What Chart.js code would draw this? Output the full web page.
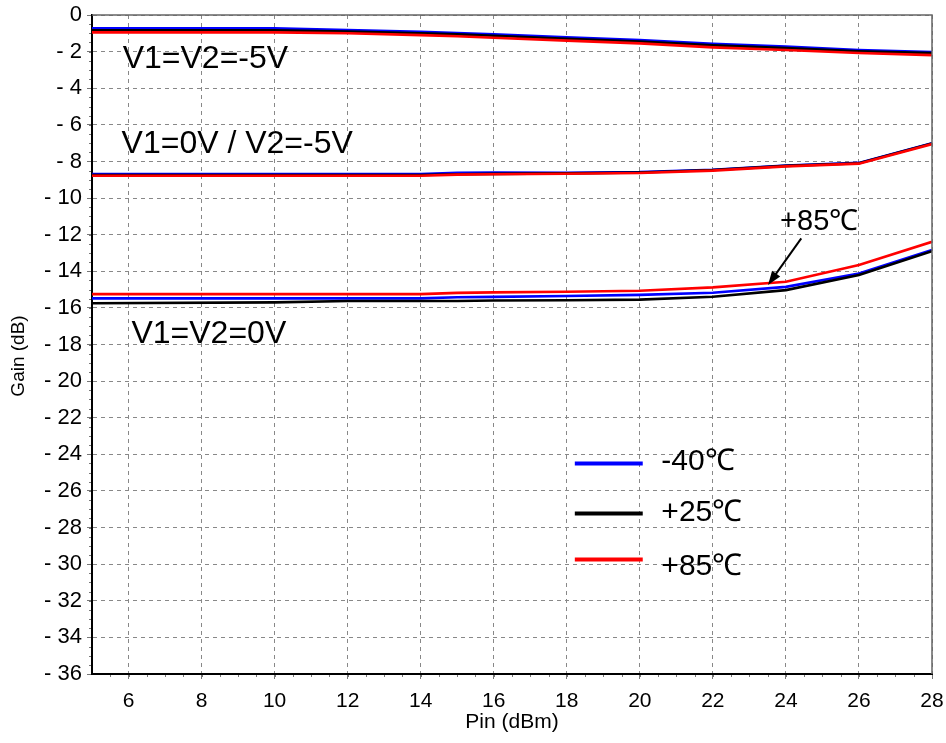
<!DOCTYPE html>
<html>
<head>
<meta charset="utf-8">
<script src="https://cdn.jsdelivr.net/npm/chart.js@4.4.0/dist/chart.umd.min.js"></script>
<style>
  html, body { margin: 0; padding: 0; background: #fff; }
  #wrap { width: 946px; height: 743px; }
</style>
</head>
<body>
<div id="wrap"><canvas id="chart" width="946" height="743"></canvas></div>
<script>
/* ---------- data ---------- */
const pinDbm = [5, 10, 12, 14, 15, 16, 18, 20, 22, 24, 26, 28];

// V1=V2=-5V
const gainA_m40 = [-0.73, -0.73, -0.82, -0.92, -0.98, -1.05, -1.22, -1.37, -1.58, -1.73, -1.91, -2.02];
const gainA_p25 = [-0.84, -0.84, -0.90, -1.00, -1.06, -1.13, -1.30, -1.45, -1.66, -1.81, -1.98, -2.08];
const gainA_p85 = [-0.95, -0.95, -1.00, -1.10, -1.16, -1.24, -1.40, -1.55, -1.77, -1.91, -2.08, -2.19];

// V1=0V / V2=-5V
const gainB_m40 = [-8.69, -8.69, -8.69, -8.69, -8.62, -8.60, -8.62, -8.58, -8.45, -8.22, -8.08, -7.00];
const gainB_p25 = [-8.74, -8.74, -8.74, -8.74, -8.70, -8.68, -8.65, -8.60, -8.47, -8.24, -8.10, -7.02];
const gainB_p85 = [-8.78, -8.78, -8.78, -8.78, -8.72, -8.70, -8.67, -8.63, -8.50, -8.27, -8.12, -7.05];

// V1=V2=0V
const gainC_m40 = [-15.48, -15.48, -15.48, -15.48, -15.42, -15.40, -15.35, -15.29, -15.17, -14.85, -14.12, -12.84];
const gainC_p25 = [-15.75, -15.70, -15.62, -15.62, -15.62, -15.60, -15.58, -15.55, -15.39, -15.03, -14.20, -12.90];
const gainC_p85 = [-15.25, -15.25, -15.25, -15.25, -15.18, -15.15, -15.12, -15.06, -14.88, -14.57, -13.66, -12.39];

const xTicks = [6, 8, 10, 12, 14, 16, 18, 20, 22, 24, 26, 28];
const yTicks = [0, -2, -4, -6, -8, -10, -12, -14, -16, -18, -20, -22, -24, -26, -28, -30, -32, -34, -36];

const tempLabels = ['-40℃', '+25℃', '+85℃'];
const tempColors = ['#0000ff', '#000000', '#ff0000'];

/* ---------- build datasets ---------- */
const FONT = '"Liberation Sans", Arial, sans-serif';
const groups = [
  [gainA_m40, gainA_p25, gainA_p85],
  [gainB_m40, gainB_p25, gainB_p85],
  [gainC_m40, gainC_p25, gainC_p85],
];
const datasets = [];
groups.forEach(g => {
  g.forEach((arr, t) => {
    datasets.push({
      label: tempLabels[t],
      data: pinDbm.map((x, i) => ({ x: x, y: arr[i] })),
      borderColor: tempColors[t],
      backgroundColor: tempColors[t],
      borderWidth: 2.6,
      pointRadius: 0,
      tension: 0,
      fill: false,
      order: 2 - t, // red on top, like the original plot
    });
  });
});

// text notes, placed in data units
const notes = [
  { text: 'V1=V2=-5V', x: 5.84, y: -2.9 },
  { text: 'V1=0V / V2=-5V', x: 5.81, y: -7.54 },
  { text: 'V1=V2=0V', x: 6.08, y: -17.92 },
];

/* ---------- plugin: frame, minor ticks, notes, legend ---------- */
const decor = {
  id: 'decor',
  afterDatasetsDraw(chart) {
    const { ctx, chartArea: a, scales: { x, y } } = chart;
    ctx.save();

    // top/right frame
    ctx.strokeStyle = '#666';
    ctx.lineWidth = 1.5;
    ctx.beginPath();
    ctx.moveTo(a.left, a.top);
    ctx.lineTo(a.right, a.top);
    ctx.lineTo(a.right, a.bottom);
    ctx.stroke();

    // minor ticks
    ctx.strokeStyle = '#777';
    ctx.lineWidth = 1;
    ctx.beginPath();
    for (let v = 5.5; v < 28; v += 0.5) {
      const px = Math.round(x.getPixelForValue(v)) + 0.5;
      ctx.moveTo(px, a.bottom + 1);
      ctx.lineTo(px, a.bottom + 3);
    }
    for (let v = -35.5; v < 0; v += 0.5) {
      const py = Math.round(y.getPixelForValue(v)) + 0.5;
      ctx.moveTo(a.left - 1, py);
      ctx.lineTo(a.left - 3, py);
    }
    ctx.stroke();

    // y axis title
    ctx.fillStyle = '#000';
    ctx.save();
    ctx.translate(19, 356);
    ctx.rotate(-Math.PI / 2);
    ctx.textAlign = 'center';
    ctx.textBaseline = 'middle';
    ctx.font = '19px ' + FONT;
    ctx.fillText('Gain (dB)', 0, 0);
    ctx.restore();

    // notes
    ctx.textBaseline = 'alphabetic';
    ctx.textAlign = 'left';
    ctx.font = '32px ' + FONT;
    notes.forEach(n => ctx.fillText(n.text, x.getPixelForValue(n.x), y.getPixelForValue(n.y)));

    // +85 pointer
    ctx.font = '29px ' + FONT;
    ctx.fillText('+85℃', x.getPixelForValue(23.84), y.getPixelForValue(-11.75));
    const x1 = x.getPixelForValue(24.42), y1 = y.getPixelForValue(-12.2);
    const x2 = x.getPixelForValue(23.51), y2 = y.getPixelForValue(-14.75);
    const ang = Math.atan2(y2 - y1, x2 - x1);
    ctx.strokeStyle = '#000';
    ctx.lineWidth = 2;
    ctx.beginPath();
    ctx.moveTo(x1, y1);
    ctx.lineTo(x2 - 10 * Math.cos(ang), y2 - 10 * Math.sin(ang));
    ctx.stroke();
    ctx.beginPath();
    ctx.moveTo(x2, y2);
    ctx.lineTo(x2 - 14 * Math.cos(ang) + 5 * Math.sin(ang), y2 - 14 * Math.sin(ang) - 5 * Math.cos(ang));
    ctx.lineTo(x2 - 14 * Math.cos(ang) - 5 * Math.sin(ang), y2 - 14 * Math.sin(ang) + 5 * Math.cos(ang));
    ctx.closePath();
    ctx.fill();

    // legend
    const legY = [-24.5, -27.23, -29.74];
    const legTextY = [-24.88, -27.65, -30.57];
    ctx.lineWidth = 4;
    ctx.font = '30px ' + FONT;
    tempLabels.forEach((lab, i) => {
      const ly = y.getPixelForValue(legY[i]);
      ctx.strokeStyle = tempColors[i];
      ctx.beginPath();
      ctx.moveTo(x.getPixelForValue(18.22), ly);
      ctx.lineTo(x.getPixelForValue(20.08), ly);
      ctx.stroke();
      ctx.fillStyle = '#000';
      ctx.fillText(lab, x.getPixelForValue(20.59), y.getPixelForValue(legTextY[i]));
    });

    ctx.restore();
  }
};

/* ---------- chart ---------- */
new Chart(document.getElementById('chart'), {
  type: 'line',
  data: { datasets: datasets },
  plugins: [decor],
  options: {
    responsive: false,
    animation: false,
    layout: { padding: { left: 0, right: 14, top: 15, bottom: 0 } },
    plugins: { legend: { display: false }, tooltip: { enabled: false } },
    scales: {
      x: {
        type: 'linear',
        min: 5, max: 28,
        afterBuildTicks: s => { s.ticks = xTicks.map(v => ({ value: v })); },
        afterFit: s => { s.height = 69; s.paddingLeft = 0; s.paddingRight = 0; },
        grid: { color: '#888', lineWidth: 1, tickLength: 5, tickColor: '#777' },
        border: { display: true, color: '#000', width: 2, dash: [4, 4] },
        ticks: { color: '#000', font: { family: FONT, size: 21 }, padding: 10, maxRotation: 0 },
        title: { display: true, text: 'Pin (dBm)', color: '#000', font: { family: FONT, size: 21 }, padding: { top: 0, bottom: 8 } }
      },
      y: {
        type: 'linear',
        min: -36, max: 0,
        afterBuildTicks: s => { s.ticks = yTicks.map(v => ({ value: v })); },
        afterFit: s => { s.width = 92; s.paddingTop = 0; s.paddingBottom = 0; },
        grid: { color: '#888', lineWidth: 1, tickLength: 5, tickColor: '#777' },
        border: { display: true, color: '#000', width: 2, dash: [4, 4] },
        ticks: {
          color: '#000', font: { family: FONT, size: 22 }, padding: 5,
          callback: v => v === 0 ? '0' : '- ' + Math.abs(v)
        },
        title: { display: false }
      }
    }
  }
});
</script>
</body>
</html>
